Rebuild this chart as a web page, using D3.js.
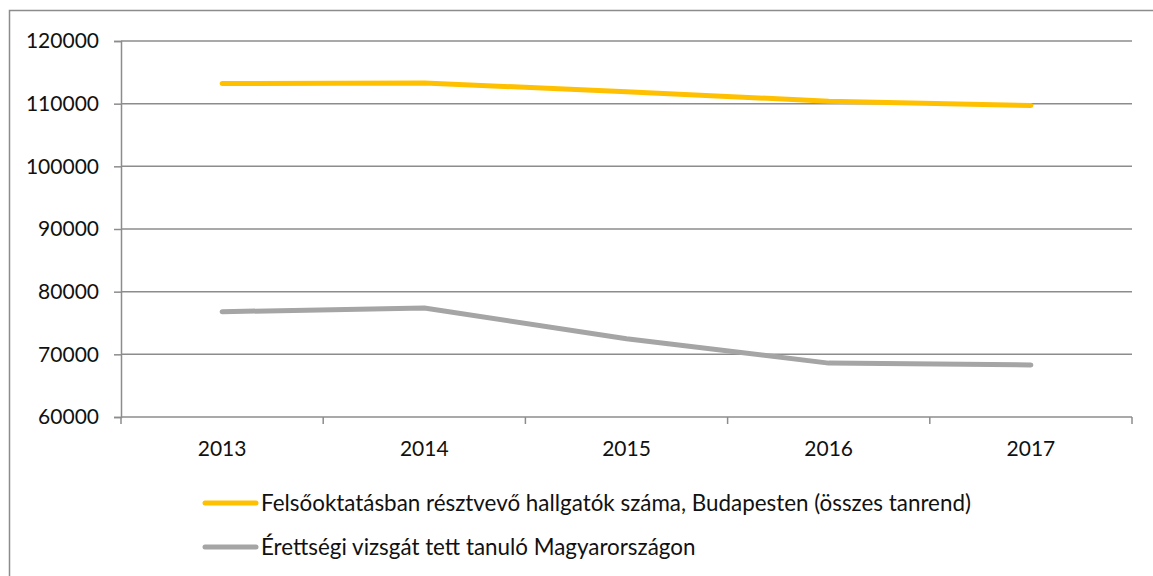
<!DOCTYPE html>
<html>
<head>
<meta charset="utf-8">
<script src="https://cdn.jsdelivr.net/npm/d3@7"></script>
<style>
  html, body { margin: 0; padding: 0; background: #fff; }
  svg { display: block; font-family: Lato, "Open Sans", sans-serif; }
</style>
</head>
<body>
<svg id="chart" width="1153" height="576"></svg>
<script>
// Years on the category axis
const years = ["2013", "2014", "2015", "2016", "2017"];

// Students in higher education, Budapest (all study modes)
const hallgatok = [113200, 113300, 111900, 110400, 109700];

// Students who passed the matura exam, Hungary
const erettsegi = [76800, 77400, 72500, 68600, 68300];

// Value-axis ticks
const yTicks = [60000, 70000, 80000, 90000, 100000, 110000, 120000];

const seriesNames = [
  "Felsőoktatásban résztvevő hallgatók száma, Budapesten (összes tanrend)",
  "Érettségi vizsgát tett tanuló Magyarországon"
];
const seriesColors = ["#FFC000", "#A5A5A5"];
const seriesValues = [hallgatok, erettsegi];

const svg = d3.select("#chart");
const W = 1153, H = 576;
const plot = { left: 121, right: 1132, top: 41, bottom: 417 };

// Outer chart frame
svg.append("rect")
  .attr("x", 9.5).attr("y", 10.5)
  .attr("width", W + 20).attr("height", H + 20)
  .attr("fill", "none").attr("stroke", "#8c8c8c").attr("stroke-width", 1.5);

const x = d3.scaleBand().domain(years).range([plot.left, plot.right]).padding(0);
const y = d3.scaleLinear().domain([60000, 120000]).range([plot.bottom, plot.top]);

const axisColor = "#8c8c8c";
const textColor = "#111";

// Horizontal gridlines + y axis
const yAxis = svg.append("g")
  .attr("transform", `translate(${plot.left},0)`)
  .call(d3.axisLeft(y).tickValues(yTicks).tickSize(7).tickPadding(15).tickFormat(d3.format("d")));
yAxis.select(".domain").attr("stroke", axisColor).attr("stroke-width", 1.5);
yAxis.selectAll(".tick line").attr("stroke", axisColor).attr("stroke-width", 1.5);
yAxis.selectAll(".tick text")
  .attr("fill", textColor).attr("font-size", 21).attr("font-family", "Lato, sans-serif");

svg.append("g")
  .selectAll("line")
  .data(yTicks.filter(d => d !== 60000))
  .join("line")
  .attr("x1", plot.left).attr("x2", plot.right)
  .attr("y1", d => y(d)).attr("y2", d => y(d))
  .attr("stroke", axisColor).attr("stroke-width", 1.5);

// Category axis with tick marks at band boundaries
const xAxisG = svg.append("g").attr("transform", `translate(0,${plot.bottom})`);
xAxisG.append("line")
  .attr("x1", plot.left).attr("x2", plot.right)
  .attr("stroke", axisColor).attr("stroke-width", 1.5);
const bounds = years.map(d => x(d)).concat([x(years[years.length - 1]) + x.bandwidth()]);
xAxisG.selectAll("line.tk")
  .data(bounds)
  .join("line")
  .attr("class", "tk")
  .attr("x1", d => d).attr("x2", d => d)
  .attr("y1", 0).attr("y2", 7)
  .attr("stroke", axisColor).attr("stroke-width", 1.5);
xAxisG.selectAll("text")
  .data(years)
  .join("text")
  .attr("x", d => x(d) + x.bandwidth() / 2)
  .attr("y", 39)
  .attr("text-anchor", "middle")
  .attr("fill", textColor)
  .attr("font-size", 21)
  .text(d => d);

// Series lines
const line = d3.line()
  .x((d, i) => x(years[i]) + x.bandwidth() / 2)
  .y(d => y(d));

svg.append("g")
  .selectAll("path")
  .data(seriesValues)
  .join("path")
  .attr("d", line)
  .attr("fill", "none")
  .attr("stroke", (d, i) => seriesColors[i])
  .attr("stroke-width", 5)
  .attr("stroke-linecap", "round")
  .attr("stroke-linejoin", "round");

// Legend
const legend = svg.append("g");
const legendY = [503, 547];
seriesNames.forEach((name, i) => {
  legend.append("line")
    .attr("x1", 205).attr("x2", 256)
    .attr("y1", legendY[i]).attr("y2", legendY[i])
    .attr("stroke", seriesColors[i]).attr("stroke-width", 5)
    .attr("stroke-linecap", "round");
  legend.append("text")
    .attr("x", 261).attr("y", legendY[i] + 8)
    .attr("fill", textColor)
    .attr("font-size", 22.4)
    .text(name);
});
</script>
</body>
</html>
